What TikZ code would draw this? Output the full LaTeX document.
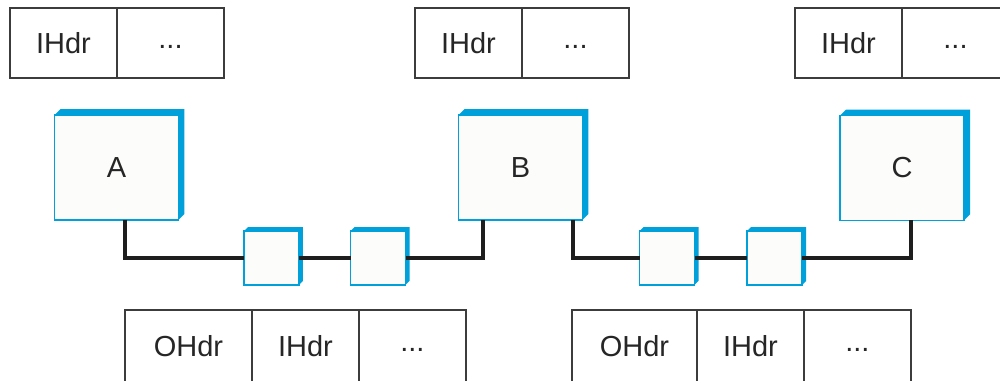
\documentclass[tikz,border=0pt]{standalone}
\usepackage{fontspec}
\setmainfont{Liberation Sans}
\usetikzlibrary{positioning}
\definecolor{netBlue}{RGB}{0, 160, 219}
\definecolor{faceWhite}{RGB}{252, 252, 250}
\definecolor{cellGray}{RGB}{60, 60, 60}
\definecolor{linkBlack}{RGB}{30, 30, 30}
\newcommand{\pktdots}{\raisebox{-.2em}[0pt][0pt]{...}}

\begin{document}
\begin{tikzpicture}[
    x=0.02cm, y=-0.02cm,
    font=\fontsize{16.5}{20}\selectfont,
    cell/.style={
      rectangle, draw=cellGray, fill=white, line width=0.8pt,
      outer sep=0pt, minimum width=2.14cm, minimum height=1.4cm,
      inner sep=0pt, text=black!85
    },
    host/.style={
      rectangle, draw=netBlue, fill=faceWhite, line width=0.7pt,
      outer sep=0pt, minimum width=2.48cm, minimum height=2.1cm,
      text=black!85
    },
    router/.style={
      rectangle, draw=netBlue, fill=faceWhite, line width=0.7pt,
      outer sep=0pt, minimum width=1.1cm, minimum height=1.08cm
    },
    link/.style={draw=linkBlack, line width=2pt}
  ]
    \clip (0,0) rectangle (1000,381);

    % Inner packets (top)
    \node[cell, anchor=north west] (t1a) at (10,8) {IHdr};
    \node[cell, right=0pt of t1a] (t1b) {\pktdots};
    \node[cell, anchor=north west] (t2a) at (415,8) {IHdr};
    \node[cell, right=0pt of t2a] (t2b) {\pktdots};
    \node[cell, anchor=north west] (t3a) at (795,8) {IHdr};
    \node[cell, right=0pt of t3a] (t3b) {\pktdots};

    % Hosts
    \node[host] (A) at (116.5,167.5) {A};
    \node[host] (B) at (520.5,167.5) {B};
    \node[host] (C) at (902,168) {C};

    % Routers
    \node[router] (r1) at (271.5,258) {};
    \node[router] (r2) at (378,258) {};
    \node[router] (r3) at (667,258) {};
    \node[router] (r4) at (774.5,258) {};

    % Blue top and right faces
    \foreach \n/\d in {A/.12cm, B/.12cm, C/.12cm, r1/.08cm, r2/.08cm, r3/.08cm, r4/.08cm}
      \fill[netBlue] (\n.north west) -- ([shift={(\d,\d)}]\n.north west)
        -- ([shift={(\d,\d)}]\n.north east) -- ([shift={(\d,\d)}]\n.south east)
        -- (\n.south east) -- (\n.north east) -- cycle;

    % Links
    \draw[link] ([xshift=.17cm]A.south) |- (r1.west);
    \draw[link] (r1.east) -- (r2.west);
    \draw[link] (r2.east) -| ([xshift=-.75cm]B.south);
    \draw[link] ([xshift=1.05cm]B.south) |- (r3.west);
    \draw[link] (r3.east) -- (r4.west);
    \draw[link] (r4.east) -| ([xshift=.18cm]C.south);

    % Tunnel packets (bottom)
    \node[cell, anchor=north west, minimum width=2.54cm, minimum height=1.44cm]
      (b1a) at (125,310) {OHdr};
    \node[cell, right=0pt of b1a, minimum height=1.44cm] (b1b) {IHdr};
    \node[cell, right=0pt of b1b, minimum height=1.44cm] (b1c) {\pktdots};
    \node[cell, anchor=north west, minimum width=2.5cm, minimum height=1.44cm]
      (b2a) at (572,310) {OHdr};
    \node[cell, right=0pt of b2a, minimum height=1.44cm] (b2b) {IHdr};
    \node[cell, right=0pt of b2b, minimum height=1.44cm] (b2c) {\pktdots};
  \end{tikzpicture}
\end{document}
